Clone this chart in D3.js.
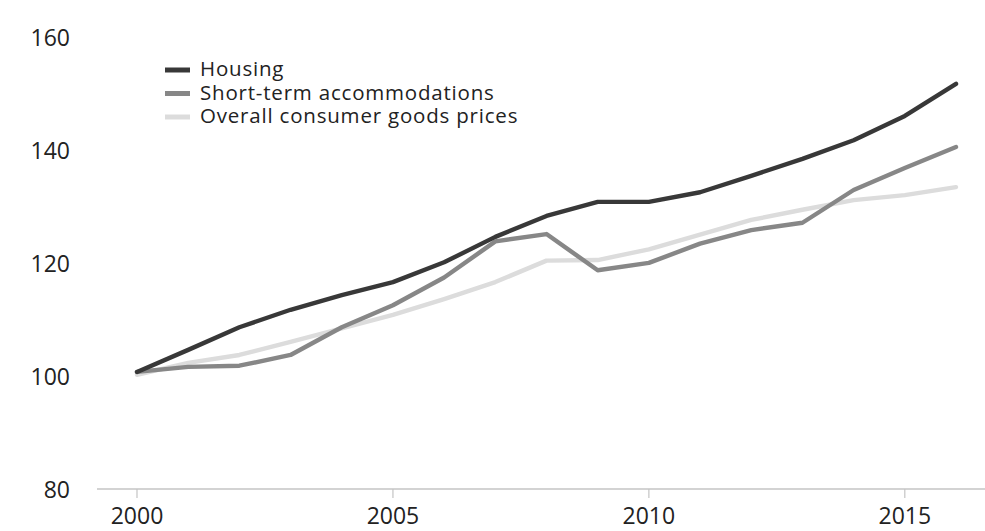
<!DOCTYPE html>
<html>
<head>
<meta charset="utf-8">
<script src="https://cdn.jsdelivr.net/npm/d3@7"></script>
<style>
  html, body { margin: 0; padding: 0; background: #fff; }
  svg { display: block; font-family: "Open Sans", "Lato", sans-serif; }
</style>
</head>
<body>
<svg id="chart" width="985" height="531"></svg>
<script>
// Price indices (2000 = 100)
const years = [2000, 2001, 2002, 2003, 2004, 2005, 2006, 2007, 2008, 2009, 2010, 2011, 2012, 2013, 2014, 2015, 2016];
const housing = [100.9, 104.8, 108.8, 111.9, 114.5, 116.8, 120.3, 124.8, 128.5, 131.0, 131.0, 132.7, 135.6, 138.6, 141.9, 146.2, 151.9];
const shortTerm = [100.9, 101.8, 102.0, 103.9, 108.8, 112.7, 117.6, 124.0, 125.3, 118.9, 120.2, 123.6, 126.0, 127.3, 133.1, 137.0, 140.7];
const overall = [100.4, 102.5, 103.9, 106.2, 108.6, 111.0, 113.8, 116.8, 120.6, 120.7, 122.6, 125.2, 127.8, 129.6, 131.3, 132.2, 133.6];
const seriesNames = ["Housing", "Short-term accommodations", "Overall consumer goods prices"];
const yTicks = [80, 100, 120, 140, 160];
const xTicks = [2000, 2005, 2010, 2015];

const series = [
  { name: seriesNames[0], values: housing, color: "#383838" },
  { name: seriesNames[1], values: shortTerm, color: "#878787" },
  { name: seriesNames[2], values: overall, color: "#dcdcdc" }
];

const svg = d3.select("#chart");
const x = d3.scaleLinear().domain([2000, 2016]).range([137, 956]);
const y = d3.scaleLinear().domain([80, 160]).range([490, 38]);

// Bottom axis: baseline with short ticks below
const xAxis = svg.append("g").attr("transform", "translate(0,489)");
xAxis.append("line")
  .attr("x1", 97).attr("x2", 985)
  .attr("stroke", "#c4c4c4").attr("stroke-width", 1.5);
xAxis.selectAll("line.tick").data(xTicks).join("line")
  .attr("class", "tick")
  .attr("x1", d => x(d)).attr("x2", d => x(d))
  .attr("y1", 0).attr("y2", 9)
  .attr("stroke", "#c4c4c4").attr("stroke-width", 1.2);
xAxis.selectAll("text").data(xTicks).join("text")
  .attr("x", d => x(d)).attr("y", 35)
  .attr("text-anchor", "middle")
  .attr("font-size", 23).attr("fill", "#222")
  .text(d => d);

// Left value labels, no axis line
svg.append("g").selectAll("text").data(yTicks).join("text")
  .attr("x", 70).attr("y", d => y(d) + 2)
  .attr("text-anchor", "end").attr("dominant-baseline", "middle")
  .attr("font-size", 23).attr("fill", "#222")
  .text(d => d);

// Lines, lightest drawn first
const line = d3.line().x((d, i) => x(years[i])).y(d => y(d));
svg.append("g").selectAll("path").data(series.slice().reverse()).join("path")
  .attr("d", d => line(d.values))
  .attr("fill", "none")
  .attr("stroke", d => d.color)
  .attr("stroke-width", 4.4)
  .attr("stroke-linejoin", "round")
  .attr("stroke-linecap", "round");

// Legend
const legend = svg.append("g").attr("transform", "translate(165,70)");
const rows = legend.selectAll("g").data(series).join("g")
  .attr("transform", (d, i) => `translate(0,${i * 23.5})`);
rows.append("line")
  .attr("x1", 0).attr("x2", 25).attr("y1", 0).attr("y2", 0)
  .attr("stroke", d => d.color).attr("stroke-width", 5);
rows.append("text")
  .attr("x", 35).attr("y", 1)
  .attr("dominant-baseline", "middle")
  .attr("font-size", 20.5).attr("letter-spacing", 0.8).attr("fill", "#222")
  .text(d => d.name);
</script>
</body>
</html>
